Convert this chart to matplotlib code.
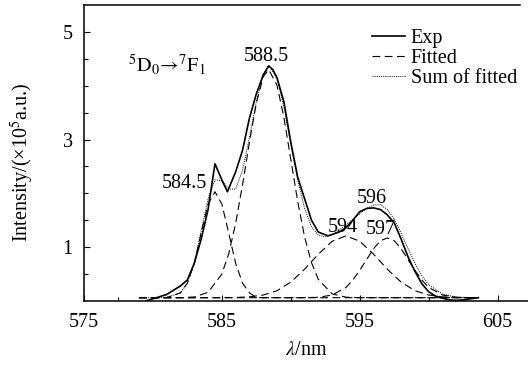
import numpy as np
import matplotlib
matplotlib.use('Agg')
from matplotlib import pyplot as plt
from matplotlib.ticker import FixedLocator

plt.rcParams['font.family'] = ['Liberation Serif', 'DejaVu Serif']
plt.rcParams['mathtext.fontset'] = 'stix'

# experimental spectrum
expX = [579.5, 580, 581, 581.5, 582, 582.5, 583, 583.5, 584, 584.5, 585, 585.4,
        586, 586.5, 587, 587.5, 588, 588.4, 588.7, 589, 589.5, 590, 590.5, 591,
        591.5, 592, 592.7, 593.5, 594, 594.5, 595, 595.5, 596, 596.5, 597, 597.5,
        598, 598.5, 599, 599.5, 600, 600.5, 601, 601.5, 602, 602.5, 603, 603.6]
expY = [0.0, 0.04, 0.12, 0.2, 0.28, 0.39, 0.7, 1.15, 1.7, 2.55, 2.25, 2.03,
        2.4, 2.8, 3.4, 3.85, 4.2, 4.37, 4.3, 4.15, 3.7, 2.95, 2.3, 1.9,
        1.5, 1.28, 1.21, 1.28, 1.36, 1.5, 1.66, 1.72, 1.73, 1.7, 1.6, 1.45,
        1.15, 0.82, 0.55, 0.32, 0.17, 0.09, 0.05, 0.02, 0.01, 0.02, 0.04, 0.06]

# fitted components
fit1X = [579, 580, 581, 582, 582.5, 583, 583.5, 584, 584.5, 585, 585.5, 586,
         586.5, 587, 587.5, 588, 603.5]
fit1Y = [0.06, 0.06, 0.064, 0.15, 0.33, 0.70, 1.26, 1.80, 2.03, 1.80, 1.26, 0.70,
         0.33, 0.15, 0.064, 0.06, 0.06]

fit2X = [579, 582, 583, 584, 585, 585.5, 586, 586.5, 587, 587.5, 588, 588.4,
         589, 589.5, 590, 590.5, 591, 591.5, 592, 593, 594, 595, 603.5]
fit2Y = [0.06, 0.06, 0.074, 0.16, 0.50, 0.88, 1.44, 2.16, 2.95, 3.68, 4.17, 4.30,
         4.01, 3.41, 2.63, 1.85, 1.19, 0.71, 0.40, 0.13, 0.07, 0.06, 0.06]

fit3X = [579, 585, 586, 587, 588, 589, 590, 591, 592, 593, 594, 595, 596,
         597, 598, 599, 600, 601, 602, 603.5]
fit3Y = [0.06, 0.06, 0.064, 0.076, 0.11, 0.19, 0.35, 0.59, 0.87, 1.11, 1.21, 1.11, 0.87,
         0.59, 0.35, 0.19, 0.11, 0.076, 0.064, 0.06]

fit4X = [579, 591, 592, 593, 594, 594.5, 595, 595.5, 596, 596.5, 597, 597.5, 598,
         598.5, 599, 599.5, 600, 601, 602, 603.5]
fit4Y = [0.06, 0.06, 0.068, 0.11, 0.25, 0.39, 0.57, 0.77, 0.97, 1.12, 1.17, 1.12, 0.97,
         0.77, 0.57, 0.39, 0.25, 0.11, 0.068, 0.06]

# sum of fitted
sumX = [579.5, 580, 581, 582, 582.5, 583, 583.5, 584, 584.5, 585, 585.5, 586,
        586.5, 587, 587.5, 588, 588.4, 589, 589.5, 590, 590.5, 591, 591.5, 592,
        592.5, 593, 593.5, 594, 594.5, 595, 595.5, 596, 596.5, 597, 597.5, 598,
        598.5, 599, 599.5, 600, 601, 602, 603.5]
sumY = [0.06, 0.06, 0.064, 0.15, 0.33, 0.71, 1.30, 1.90, 2.25, 2.24, 2.08, 2.08,
        2.43, 3.04, 3.70, 4.22, 4.38, 4.14, 3.61, 2.92, 2.25, 1.72, 1.38, 1.22,
        1.19, 1.23, 1.32, 1.41, 1.52, 1.62, 1.72, 1.78, 1.79, 1.70, 1.52, 1.26,
        0.97, 0.70, 0.47, 0.30, 0.125, 0.07, 0.06]

peakLabels = ['584.5', '588.5', '594', '596', '597']
peakLabelX = [582.3, 588.2, 593.8, 595.9, 596.5]
peakLabelY = [2.19, 4.54, 1.36, 1.91, 1.32]

fig = plt.figure(figsize=(5.28, 3.67), dpi=100)
ax = fig.add_axes([0.159, 0.18, 0.841, 0.806])

dash = (0, (7, 4))
ax.plot(expX, expY, color='black', lw=1.2, label='Exp')
ax.plot(fit1X, fit1Y, color='black', lw=0.8, linestyle=dash, label='Fitted')
ax.plot(fit2X, fit2Y, color='black', lw=0.8, linestyle=dash)
ax.plot(fit3X, fit3Y, color='black', lw=0.8, linestyle=dash)
ax.plot(fit4X, fit4Y, color='black', lw=0.8, linestyle=dash)
ax.plot(sumX, sumY, color='black', lw=0.7, linestyle=(0, (1, 1.2)), label='Sum of fitted')

for lab, lx, ly in zip(peakLabels, peakLabelX, peakLabelY):
  ax.text(lx, ly, lab, fontsize=14.5, ha='center', va='center')

ax.text(578.2, 4.39, r'$^{5}\mathrm{D}_{0}\!\rightarrow\!{}^{7}\mathrm{F}_{1}$', fontsize=14.5,
        ha='left', va='center')

ax.set_xlim(575, 607.2)
ax.set_ylim(0, 5.5)
ax.xaxis.set_major_locator(FixedLocator([575, 585, 595, 605]))
ax.xaxis.set_minor_locator(FixedLocator([577.5, 590, 600]))
ax.yaxis.set_major_locator(FixedLocator([1, 3, 5]))
ax.yaxis.set_minor_locator(FixedLocator([0.5, 1.5, 2, 2.5, 3.5, 4, 4.5]))
ax.tick_params(which='both', direction='in', labelsize=14.5, width=0.8)
ax.tick_params(which='major', length=4)
ax.tick_params(which='minor', length=3)
ax.tick_params(axis='x', pad=9)
ax.tick_params(axis='y', pad=8)

ax.spines['right'].set_visible(False)
ax.spines['top'].set_bounds(575, 606.6)
for s in ['left', 'bottom', 'top']:
  ax.spines[s].set_linewidth(1.1)

ax.set_xlabel(r'$\lambda$/nm', fontsize=14.5, labelpad=6)
ax.set_ylabel('Intensity/(\u00d710$^{5}$a.u.)', fontsize=14.5)
ax.yaxis.set_label_coords(-0.108, 0.47)

ax.legend(loc='upper left', bbox_to_anchor=(0.625, 0.955), frameon=False, fontsize=14.5,
          handlelength=1.65, handletextpad=0.3, labelspacing=0.05, borderpad=0)

fig.savefig('out.png', dpi=100)
